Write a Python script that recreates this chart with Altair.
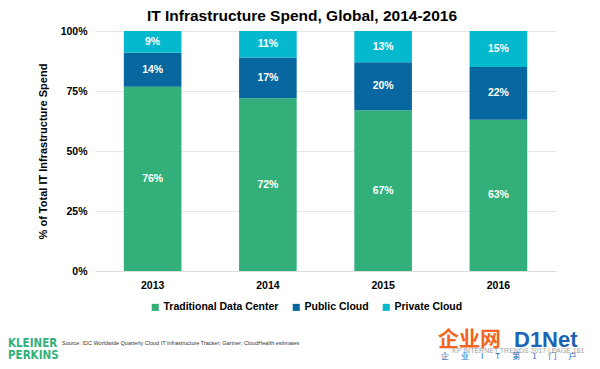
import altair as alt
import pandas as pd

years = ["2013", "2014", "2015", "2016"]
series = ["Traditional Data Center", "Public Cloud", "Private Cloud"]
traditional = [76, 72, 67, 63]
public = [14, 17, 20, 22]
private = [9, 11, 13, 15]
colors = ["#33B07A", "#07679E", "#04B8CE"]

rows = []
for i, y in enumerate(years):
    for k, (s, vals) in enumerate(zip(series, [traditional, public, private])):
        rows.append({"year": y, "series": s, "value": vals[i], "order": k, "label": f"{vals[i]}%"})
df = pd.DataFrame(rows)

FONT = "Liberation Sans"

base = alt.Chart(df).transform_stack(
    stack="value", as_=["y0", "y1"], groupby=["year"], sort=[alt.SortField("order")], offset="normalize"
).transform_calculate(mid="(datum.y0 + datum.y1) / 2")

xenc = alt.X("year:N", sort=years, title=None,
             scale=alt.Scale(paddingInner=0.5, paddingOuter=0.25),
             axis=alt.Axis(labelAngle=0, labelFont=FONT, labelFontWeight="bold", labelFontSize=10.5,
                           labelColor="#000", ticks=False, domainColor="#dddddd", labelPadding=9))

bars = base.mark_bar().encode(
    x=xenc,
    y=alt.Y("y0:Q", scale=alt.Scale(domain=[0, 1]),
            title="% of Total IT Infrastructure Spend",
            axis=alt.Axis(values=[0, 0.25, 0.5, 0.75, 1], format=".0%", labelFont=FONT,
                          labelFontWeight="bold", labelFontSize=10.5, labelColor="#000",
                          ticks=False, domain=False, gridColor="#e6e6e6", labelPadding=8,
                          titleFont=FONT, titleFontSize=11, titleFontWeight="bold",
                          titleColor="#000", titlePadding=12)),
    y2="y1:Q",
    color=alt.Color("series:N", sort=series,
                    scale=alt.Scale(domain=series, range=colors),
                    legend=alt.Legend(title=None, orient="none", direction="horizontal",
                                      legendX=55, legendY=271, symbolType="square",
                                      symbolSize=50, symbolStrokeWidth=0, symbolOpacity=1,
                                      labelFont=FONT, labelFontWeight="bold", labelFontSize=10.5,
                                      labelColor="#000", columnPadding=12, labelOffset=3)),
)

labels = base.mark_text(color="white", font=FONT, fontWeight="bold", fontSize=10.5).encode(
    x=alt.X("year:N", sort=years),
    y=alt.Y("mid:Q"),
    text="label:N",
)


def note(text, x, y, **kw):
    return alt.Chart(pd.DataFrame({"t": [text]})).mark_text(align="left", baseline="middle", **kw).encode(
        x=alt.value(x), y=alt.value(y), text="t:N")


title = alt.Chart(pd.DataFrame({"t": ["IT Infrastructure Spend, Global, 2014-2016"]})).mark_text(
    align="center", baseline="middle", font=FONT, fontWeight="bold", fontSize=15.5, color="#000").encode(
    x=alt.value(207), y=alt.value(-15), text="t:N")

kp1 = note("KLEINER", -87, 313, font="DejaVu Sans Condensed", fontWeight="bold", fontSize=11.5, color="#33B07A")
kp2 = note("PERKINS", -87, 325, font="DejaVu Sans Condensed", fontWeight="bold", fontSize=11.5, color="#33B07A")
src = note("Source: IDC Worldwide Quarterly Cloud IT Infrastructure Tracker; Gartner; CloudHealth estimates",
           -33, 312, font=FONT, fontSize=5.5, color="#333")
logo1 = note("企业网", 343, 309, font="Noto Sans CJK SC", fontWeight="bold", fontSize=21, color="#F26522")
logo2 = note("D1Net", 419, 309, font=FONT, fontWeight="bold", fontSize=22, color="#1B63B5")
page = note("KP INTERNET TRENDS 2017  |  PAGE 181", 357, 320, font=FONT, fontSize=7, color="#a0a0a0")
gap = "\u3000\u2002"
logo3 = note(gap.join(["企", "业", "I", "T", "第", "1", "门", "户"]), 346, 326,
             font="Noto Sans CJK SC", fontSize=8, color="#1B63B5")

chart = alt.layer(bars, labels, title, kp1, kp2, src, logo1, logo2, page, logo3).properties(
    width=461, height=240,
    autosize=alt.AutoSizeParams(type="none"),
    padding={"left": 87, "top": 23, "right": 36, "bottom": 90},
).configure_view(stroke=None)

chart.save("out.html", embed_options={"renderer": "svg", "actions": False})
